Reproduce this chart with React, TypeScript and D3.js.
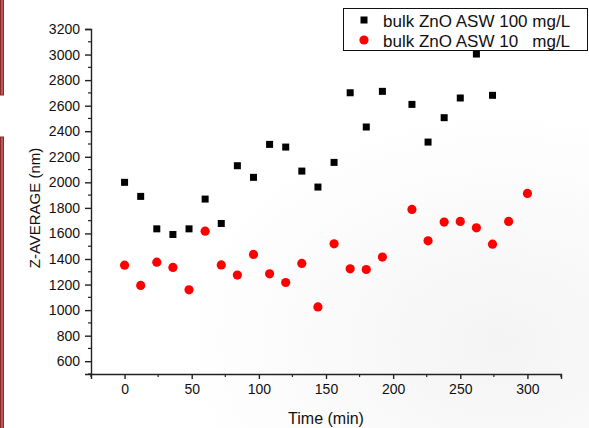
import React, { useEffect, useRef } from 'react'
import * as d3 from 'd3'

// Time (min) and Z-average (nm)
const times100 = [0, 12, 24, 36, 48, 60, 72, 84, 96, 108, 120, 132, 144, 156, 168, 180, 192, 214, 226, 238, 250, 262, 274]
const zAvg100 = [2000, 1890, 1636, 1592, 1636, 1869, 1678, 2130, 2039, 2297, 2276, 2088, 1963, 2156, 2701, 2433, 2712, 2610, 2315, 2506, 2660, 3004, 2681]

const times10 = [0, 12, 24, 36, 48, 60, 72, 84, 96, 108, 120, 132, 144, 156, 168, 180, 192, 214, 226, 238, 250, 262, 274, 286, 300]
const zAvg10 = [1352, 1193, 1375, 1334, 1159, 1618, 1354, 1274, 1436, 1284, 1216, 1365, 1025, 1519, 1323, 1318, 1415, 1788, 1542, 1689, 1694, 1644, 1516, 1694, 1913]

const xTicks = [0, 50, 100, 150, 200, 250, 300]
const yTicks = [600, 800, 1000, 1200, 1400, 1600, 1800, 2000, 2200, 2400, 2600, 2800, 3000, 3200]

const legendLabels = ['bulk ZnO ASW 100 mg/L', 'bulk ZnO ASW 10   mg/L']

const W = 589
const H = 428
const FONT = '"Liberation Sans", Arial, sans-serif'

const App = () => {
  const ref = useRef<SVGSVGElement | null>(null)

  useEffect(() => {
    const svg = d3.select(ref.current)
    svg.selectAll('*').remove()

    const margin = { top: 29, right: 28, bottom: 54, left: 91 }
    const x = d3.scaleLinear().domain([-25, 325]).range([margin.left, W - margin.right])
    const y = d3.scaleLinear().domain([500, 3200]).range([H - margin.bottom, margin.top])

    // faint grey shading in the lower right, as in the scan
    const defs = svg.append('defs')
    const grad = defs.append('radialGradient')
      .attr('id', 'shade')
      .attr('cx', '0.85').attr('cy', '0.8').attr('r', '0.55')
    grad.append('stop').attr('offset', '0%').attr('stop-color', '#f4f4f4')
    grad.append('stop').attr('offset', '100%').attr('stop-color', '#ffffff')
    svg.append('rect').attr('width', W).attr('height', H).attr('fill', 'url(#shade)')

    // reddish bars on the left edge
    svg.append('rect').attr('x', 0.5).attr('y', -2).attr('width', 3).attr('height', 97)
      .attr('fill', '#b85a5a').attr('stroke', '#8c2a2a')
    svg.append('rect').attr('x', 0.5).attr('y', 137).attr('width', 3).attr('height', 300)
      .attr('fill', '#b85a5a').attr('stroke', '#8c2a2a')

    // x axis
    const gx = svg.append('g')
      .attr('transform', `translate(0,${y(500)})`)
      .call(d3.axisBottom(x).tickValues(xTicks).tickSize(5).tickPadding(5).tickFormat(d3.format('d')))
    gx.select('.domain').attr('stroke', '#222').attr('stroke-width', 1.4)
    gx.selectAll('.tick line').attr('stroke', '#222').attr('stroke-width', 1.4)
    gx.selectAll('.tick text').attr('font-family', FONT).attr('font-size', 14).attr('fill', '#111')
    gx.selectAll('line.minor')
      .data(d3.range(-25, 326, 50))
      .enter().append('line')
      .attr('class', 'minor')
      .attr('x1', d => x(d)).attr('x2', d => x(d))
      .attr('y1', 0).attr('y2', 3)
      .attr('stroke', '#222').attr('stroke-width', 1.2)

    // y axis
    const gy = svg.append('g')
      .attr('transform', `translate(${x(-25)},0)`)
      .call(d3.axisLeft(y).tickValues(yTicks).tickSize(6).tickPadding(5).tickFormat(d3.format('d')))
    gy.select('.domain').attr('stroke', '#222').attr('stroke-width', 1.4)
    gy.selectAll('.tick line').attr('stroke', '#222').attr('stroke-width', 1.4)
    gy.selectAll('.tick text').attr('font-family', FONT).attr('font-size', 14).attr('fill', '#111')
    gy.selectAll('line.minor')
      .data(d3.range(500, 3200, 200))
      .enter().append('line')
      .attr('class', 'minor')
      .attr('y1', d => y(d)).attr('y2', d => y(d))
      .attr('x1', 0).attr('x2', -3)
      .attr('stroke', '#222').attr('stroke-width', 1.2)

    // axis titles
    svg.append('text')
      .attr('x', (x(-25) + x(325)) / 2)
      .attr('y', 424)
      .attr('text-anchor', 'middle')
      .attr('font-family', FONT).attr('font-size', 16).attr('fill', '#111')
      .text('Time (min)')
    svg.append('text')
      .attr('transform', 'translate(40,208) rotate(-90)')
      .attr('text-anchor', 'middle')
      .attr('font-family', FONT).attr('font-size', 15).attr('fill', '#111')
      .text('Z-AVERAGE (nm)')

    // points
    svg.append('g').selectAll('rect')
      .data(times100.map((t, i) => [t, zAvg100[i]]))
      .enter().append('rect')
      .attr('x', d => x(d[0]) - 3.5)
      .attr('y', d => y(d[1]) - 3.5)
      .attr('width', 7).attr('height', 7)
      .attr('fill', '#000')

    svg.append('g').selectAll('circle')
      .data(times10.map((t, i) => [t, zAvg10[i]]))
      .enter().append('circle')
      .attr('cx', d => x(d[0]))
      .attr('cy', d => y(d[1]))
      .attr('r', 4.6)
      .attr('fill', '#ff0000')

    // legend
    const lg = svg.append('g')
    lg.append('rect')
      .attr('x', 343.5).attr('y', 8.5).attr('width', 244).attr('height', 42)
      .attr('fill', '#fff').attr('stroke', '#111').attr('stroke-width', 1)
    lg.append('rect').attr('x', 364 - 3.5).attr('y', 20 - 3.5).attr('width', 7).attr('height', 7).attr('fill', '#000')
    lg.append('circle').attr('cx', 364).attr('cy', 40).attr('r', 4.6).attr('fill', '#ff0000')
    legendLabels.forEach((label, i) => {
      lg.append('text')
        .attr('x', 383).attr('y', 26.5 + i * 20)
        .attr('font-family', FONT).attr('font-size', 17).attr('fill', '#111')
        .style('white-space', 'pre')
        .text(label)
    })
  }, [])

  return (
    <svg
      ref={ref}
      width={W}
      height={H}
      style={{ position: 'absolute', left: 0, top: 0, display: 'block', background: '#fff' }}
    />
  )
}

export default App
